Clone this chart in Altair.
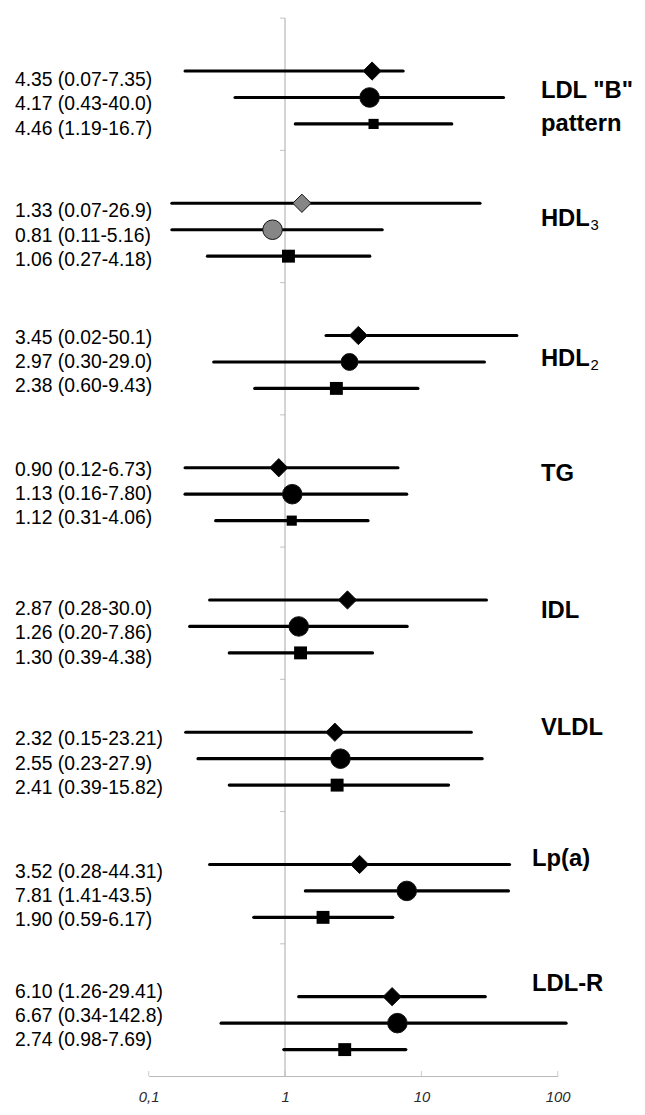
import altair as alt
import pandas as pd

# ---------------- data ----------------
groups = ['LDL "B" pattern', "HDL3", "HDL2", "TG", "IDL", "VLDL", "Lp(a)", "LDL-R"]
models = ["diamond", "circle", "square"]

or_vals = [
    [4.35, 4.17, 4.46],
    [1.33, 0.81, 1.06],
    [3.45, 2.97, 2.38],
    [0.90, 1.13, 1.12],
    [2.87, 1.26, 1.30],
    [2.32, 2.55, 2.41],
    [3.52, 7.81, 1.90],
    [6.10, 6.67, 2.74],
]
# interval ends as drawn in the picture
ci_lo = [
    [0.185, 0.43, 1.19],
    [0.148, 0.148, 0.27],
    [2.0, 0.30, 0.60],
    [0.185, 0.185, 0.31],
    [0.28, 0.20, 0.39],
    [0.187, 0.23, 0.39],
    [0.28, 1.41, 0.59],
    [1.26, 0.34, 0.98],
]
ci_hi = [
    [7.35, 40.0, 16.7],
    [26.9, 5.16, 4.18],
    [50.1, 29.0, 9.43],
    [6.73, 7.80, 4.06],
    [30.0, 7.86, 4.38],
    [23.21, 27.9, 15.82],
    [44.31, 43.5, 6.17],
    [29.41, 115.0, 7.69],
]
row_text = [
    ["4.35 (0.07-7.35)", "4.17 (0.43-40.0)", "4.46 (1.19-16.7)"],
    ["1.33 (0.07-26.9)", "0.81 (0.11-5.16)", "1.06 (0.27-4.18)"],
    ["3.45 (0.02-50.1)", "2.97 (0.30-29.0)", "2.38 (0.60-9.43)"],
    ["0.90 (0.12-6.73)", "1.13 (0.16-7.80)", "1.12 (0.31-4.06)"],
    ["2.87 (0.28-30.0)", "1.26 (0.20-7.86)", "1.30 (0.39-4.38)"],
    ["2.32 (0.15-23.21)", "2.55 (0.23-27.9)", "2.41 (0.39-15.82)"],
    ["3.52 (0.28-44.31)", "7.81 (1.41-43.5)", "1.90 (0.59-6.17)"],
    ["6.10 (1.26-29.41)", "6.67 (0.34-142.8)", "2.74 (0.98-7.69)"],
]
group_label_lines = [['LDL "B"', "pattern"], ["HDL"], ["HDL"], ["TG"],
                     ["IDL"], ["VLDL"], ["Lp(a)"], ["LDL-R"]]
group_label_sub = ["", "3", "2", "", "", "", "", ""]
x_ticks = [0.1, 1, 10, 100]
x_tick_labels = ["0,1", "1", "10", "100"]

# ---------------- layout (code, not data) ----------------
SLOT = 26.7
PLOT_W = 413
PLOT_H = 40 * SLOT
text_shift_px = [7, 6, 0, 0, 7, 5, 5, -7]
label_slot = [[2.77, 4.01], [2.60], [2.88], [2.23], [2.43], [1.85], [1.80], [1.52]]
label_x = [396, 396, 396, 396, 396, 396, 387, 387]
SUB_DX = 50
FONT = "Liberation Sans, Arial, sans-serif"

rows = []
for g in range(len(groups)):
    for k in range(3):
        rows.append(dict(
            gi=g, k=k, model=models[k], orv=or_vals[g][k],
            lo=ci_lo[g][k], hi=ci_hi[g][k], txt=row_text[g][k],
            slot=5 * g + 2 + k,
            tslot=5 * g + 3 + (text_shift_px[g] + (k - 1) * 24.5) / SLOT,
        ))
df = pd.DataFrame(rows)

lab_rows = []
sub_rows = []
for g, lines in enumerate(group_label_lines):
    for j, t in enumerate(lines):
        lab_rows.append(dict(t=t, ls=5 * g + label_slot[g][j], lx=label_x[g]))
    if group_label_sub[g]:
        sub_rows.append(dict(t=group_label_sub[g], ls=5 * g + label_slot[g][0],
                             lx=label_x[g] + SUB_DX))
labdf = pd.DataFrame(lab_rows)
subdf = pd.DataFrame(sub_rows)

xs = alt.Scale(type="log", domain=[0.1, 100], nice=False)
ys = alt.Scale(domain=[0, 40], reverse=True, nice=False, zero=False)

label_expr = " : ".join(
    f"datum.value == {v} ? '{s}'" for v, s in zip(x_ticks, x_tick_labels)
) + " : ''"
xaxis = alt.Axis(values=x_ticks, labelExpr=label_expr, title=None, grid=False,
                 ticks=False, domainColor="#b8b8b8", domainWidth=1,
                 labelFont=FONT, labelFontStyle="italic", labelFontSize=15,
                 labelColor="#2a2a2a", labelPadding=14, labelFlush=False,
                 labelOverlap=False)

ref = alt.Chart(pd.DataFrame({"x": [1], "y0": [0], "y1": [40]})).mark_rule(
    color="#a8a8a8", strokeWidth=1).encode(
    x=alt.X("x:Q", scale=xs, axis=xaxis),
    y=alt.Y("y0:Q", scale=ys, axis=None), y2="y1:Q")

yticks = alt.Chart(pd.DataFrame({"x": [1] * 8, "s": [0, 5, 10, 15, 20, 25, 30, 35]})).mark_tick(
    orient="horizontal", size=5, thickness=1, color="#a8a8a8", xOffset=-2.5).encode(
    x=alt.X("x:Q", scale=xs, axis=xaxis),
    y=alt.Y("s:Q", scale=ys, axis=None))

xticks = alt.Chart(pd.DataFrame({"x": x_ticks, "s": [40] * len(x_ticks)})).mark_tick(
    orient="vertical", size=5, thickness=1, color="#b8b8b8", yOffset=-2.5).encode(
    x=alt.X("x:Q", scale=xs, axis=xaxis),
    y=alt.Y("s:Q", scale=ys, axis=None))

base = alt.Chart(df)
ci = base.mark_rule(color="black", strokeWidth=3.2, strokeCap="round").encode(
    x=alt.X("lo:Q", scale=xs, axis=xaxis), x2="hi:Q",
    y=alt.Y("slot:Q", scale=ys, axis=None))

gray_fill = alt.condition("datum.gi == 1", alt.value("#868686"), alt.value("black"))

diam = base.transform_filter("datum.k == 0").mark_point(
    shape="diamond", filled=True, stroke="#111111", strokeWidth=1, opacity=1).encode(
    x=alt.X("orv:Q", scale=xs, axis=xaxis), y=alt.Y("slot:Q", scale=ys, axis=None),
    fill=gray_fill, size=alt.value(340))

circ = base.transform_filter("datum.k == 1").mark_point(
    shape="circle", filled=True, stroke="#111111", strokeWidth=1, opacity=1).encode(
    x=alt.X("orv:Q", scale=xs, axis=xaxis), y=alt.Y("slot:Q", scale=ys, axis=None),
    fill=gray_fill,
    size=alt.condition("datum.gi == 2", alt.value(290), alt.value(390)))

sq = base.transform_filter("datum.k == 2").mark_point(
    shape="square", filled=True, color="black", opacity=1).encode(
    x=alt.X("orv:Q", scale=xs, axis=xaxis), y=alt.Y("slot:Q", scale=ys, axis=None),
    size=alt.condition("datum.gi == 0 || datum.gi == 3", alt.value(105), alt.value(170)))

left_txt = base.mark_text(align="left", baseline="middle", font=FONT,
                          fontSize=19.5, color="black").encode(
    x=alt.value(-135), y=alt.Y("tslot:Q", scale=ys, axis=None), text="txt:N")

label_layers = []
for lxv in sorted(set(labdf["lx"])):
    sub = labdf[labdf["lx"] == lxv]
    label_layers.append(alt.Chart(sub).mark_text(
        align="left", baseline="middle", font=FONT, fontSize=24,
        fontWeight="bold", color="black").encode(
        x=alt.value(int(lxv)), y=alt.Y("ls:Q", scale=ys, axis=None), text="t:N"))
for lxv in sorted(set(subdf["lx"])):
    sub = subdf[subdf["lx"] == lxv]
    label_layers.append(alt.Chart(sub).mark_text(
        align="left", baseline="middle", font=FONT, fontSize=15, dy=6,
        color="black").encode(
        x=alt.value(int(lxv)), y=alt.Y("ls:Q", scale=ys, axis=None), text="t:N"))

chart = alt.layer(ref, yticks, xticks, ci, diam, circ, sq, left_txt, *label_layers).properties(
    width=PLOT_W, height=PLOT_H,
    padding={"left": 142, "top": 5, "right": 80, "bottom": 25},
    autosize=alt.AutoSizeParams(type="none"),
    background="white",
).configure_view(stroke=None)

chart.save("out.html", embed_options={"renderer": "svg", "actions": False})
